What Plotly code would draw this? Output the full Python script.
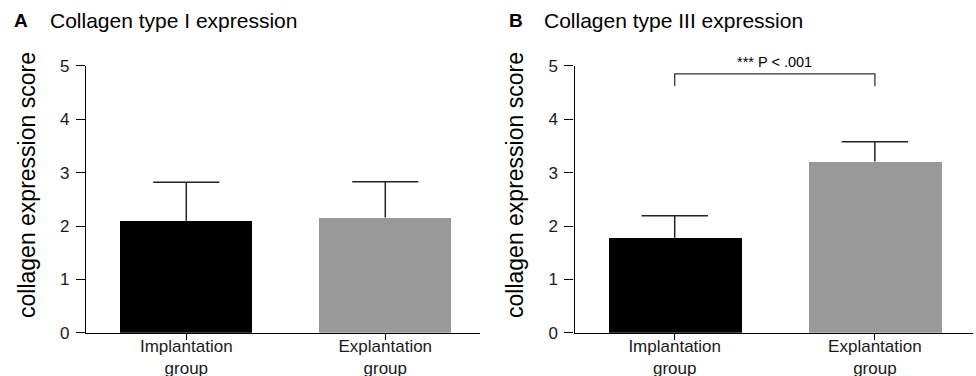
import plotly.graph_objects as go

# ---- data ----
groups = ["Implantation group", "Explantation group"]
tick_text = ["Implantation<br>group", "Explantation<br>group"]
col1_mean = [2.10, 2.16]
col1_sd = [0.72, 0.67]
col3_mean = [1.78, 3.21]
col3_sd = [0.41, 0.37]
bar_colors = ["#000000", "#999999"]
panel_letters = ["A", "B"]
panel_titles = ["Collagen type I expression", "Collagen type III expression"]
y_title = "collagen expression score"
sig_text = "*** P < .001"
sig_y = [4.62, 4.85]

W, H = 976, 376
FONT = "Arial, Liberation Sans, Helvetica, sans-serif"
CAP = 0.166  # half cap width in category units

fig = go.Figure()

for i, (means, sds) in enumerate([(col1_mean, col1_sd), (col3_mean, col3_sd)]):
    xa = "x" if i == 0 else "x2"
    ya = "y" if i == 0 else "y2"
    fig.add_trace(go.Bar(
        x=[0, 1], y=means, width=0.665,
        marker=dict(color=bar_colors, line=dict(width=0)),
        xaxis=xa, yaxis=ya, showlegend=False, hoverinfo="y",
    ))
    ex, ey = [], []
    for k, (m, s) in enumerate(zip(means, sds)):
        ex += [k, k, None, k - CAP, k + CAP, None]
        ey += [m, m + s, None, m + s, m + s, None]
    fig.add_trace(go.Scatter(
        x=ex, y=ey, mode="lines", line=dict(color="#222222", width=1.5),
        xaxis=xa, yaxis=ya, showlegend=False, hoverinfo="skip",
    ))

def px_x(p):
    return p / W

def px_y(p):
    return (H - p) / H

ydom = [px_y(332.8), px_y(65.8)]
axis_common = dict(showgrid=False, zeroline=False, showline=True, linecolor="#000000",
                   linewidth=1.3, ticks="outside", tickcolor="#000000", tickwidth=1.3,
                   automargin=False,
                   tickfont=dict(family=FONT, size=17, color="#1a1a1a"))

xax = dict(tickvals=[0, 1], ticktext=tick_text, ticklen=6, ticklabelstandoff=-8, **axis_common)
yax = dict(domain=ydom, range=[0, 5], tickvals=[0, 1, 2, 3, 4, 5], ticklen=9,
           ticklabelstandoff=3, **axis_common)

fig.update_layout(
    template="none",
    width=W, height=H,
    margin=dict(l=0, r=0, t=0, b=0, pad=0, autoexpand=False),
    paper_bgcolor="white", plot_bgcolor="white",
    bargap=0,
    xaxis=dict(domain=[px_x(86), px_x(480)], range=[-0.504, 1.476], anchor="y", **xax),
    yaxis=dict(anchor="x", **yax),
    xaxis2=dict(domain=[px_x(574.5), px_x(973)], range=[-0.5005, 1.49], anchor="y2", **xax),
    yaxis2=dict(anchor="x2", **yax),
)

annotations = []
letter_x = [12, 507]
title_x = [48, 542]
ytitle_x = [27, 515]
for i in range(2):
    annotations.append(dict(text="<b>%s</b>" % panel_letters[i], xref="paper", yref="paper",
                            x=px_x(letter_x[i]), y=px_y(21), xanchor="left", yanchor="middle",
                            showarrow=False, font=dict(family=FONT, size=19, color="#000000")))
    annotations.append(dict(text=panel_titles[i], xref="paper", yref="paper",
                            x=px_x(title_x[i]), y=px_y(21), xanchor="left", yanchor="middle",
                            showarrow=False, font=dict(family=FONT, size=21, color="#000000")))
    annotations.append(dict(text=y_title, xref="paper", yref="paper", textangle=-90,
                            x=px_x(ytitle_x[i]), y=px_y(185), xanchor="center", yanchor="middle",
                            showarrow=False, font=dict(family=FONT, size=23, color="#000000")))

annotations.append(dict(text=sig_text, xref="x2", yref="y2", x=0.5, y=sig_y[1],
                        xanchor="center", yanchor="bottom", yshift=2, showarrow=False,
                        font=dict(family=FONT, size=14.5, color="#000000")))
fig.update_layout(annotations=annotations)

fig.add_shape(type="path", xref="x2", yref="y2",
              path="M 0 %s L 0 %s L 1 %s L 1 %s" % (sig_y[0], sig_y[1], sig_y[1], sig_y[0]),
              line=dict(color="#333333", width=1.3))

fig.write_html("out.html", config={"displayModeBar": False},
               post_script="document.body.style.margin='0';document.body.style.overflow='hidden';")
